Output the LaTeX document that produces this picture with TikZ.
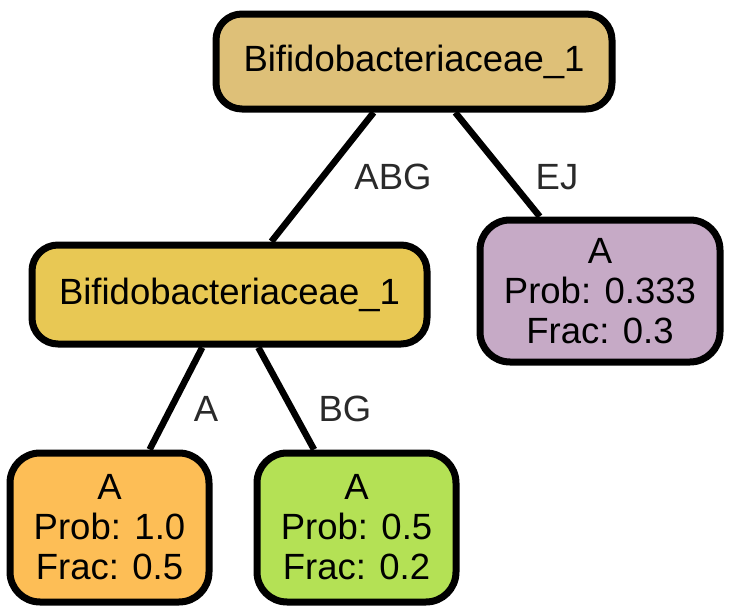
\documentclass[tikz,border=0pt]{standalone}
\usepackage{fontspec}
\setmainfont{Liberation Sans}
\definecolor{rootc}{HTML}{DEC078}
\definecolor{midc}{HTML}{E8C854}
\definecolor{orc}{HTML}{FDBE56}
\definecolor{grc}{HTML}{B4E155}
\definecolor{puc}{HTML}{C6AAC6}
\definecolor{lblc}{HTML}{2A2A2A}
\tikzset{
  box/.style={draw=black, line width=7pt, rounded corners=26pt, align=center,
    font=\fontsize{36.5}{40}\selectfont, inner sep=0pt},
  edge/.style={draw=black, line width=6.5pt},
  elabel/.style={text=lblc, font=\fontsize{36.5}{40}\selectfont, inner sep=0pt}
}
\begin{document}
\begin{tikzpicture}[x=1pt,y=-1pt]
\useasboundingbox (0,0) rectangle (732,613);
\node[box, fill=rootc, minimum width=396pt, minimum height=95pt] (root) at (414,61.5) {Bifidobacteriaceae\_1};
\node[box, fill=midc, minimum width=395pt, minimum height=99pt] (mid) at (229.5,294.5) {Bifidobacteriaceae\_1};
\node[box, fill=orc, minimum width=199pt, minimum height=149pt, rounded corners=30pt] (or) at (109.5,527.5) {A\\Prob: 1.0\\Frac: 0.5};
\node[box, fill=grc, minimum width=199pt, minimum height=149pt, rounded corners=30pt] (gr) at (356.5,527.5) {A\\Prob: 0.5\\Frac: 0.2};
\node[box, fill=puc, minimum width=240pt, minimum height=142pt, rounded corners=30pt] (pu) at (600,291) {A\\Prob: 0.333\\Frac: 0.3};
\draw[edge] (root) -- (mid);
\draw[edge] (root) -- (pu);
\draw[edge] (mid) -- (or);
\draw[edge] (mid) -- (gr);
\node[elabel] (l1) at (393,177) {ABG};
\node[elabel] (l2) at (557,177) {EJ};
\node[elabel] (l3) at (206,409) {A};
\node[elabel] (l4) at (345,409) {BG};
\end{tikzpicture}
\end{document}
